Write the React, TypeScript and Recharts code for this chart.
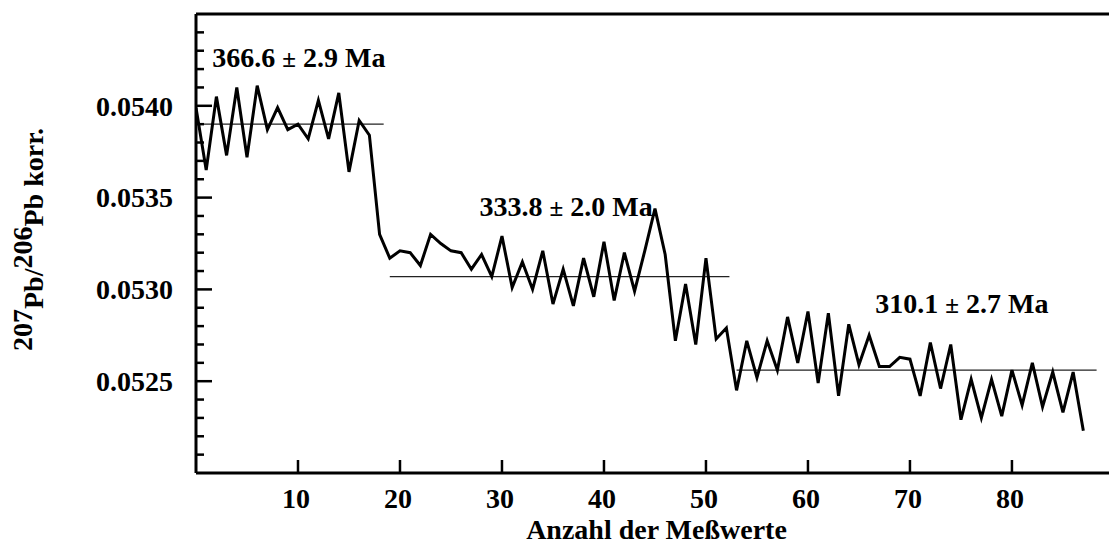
import React from "react";
import { LineChart, Line, XAxis, YAxis, ReferenceLine, ReferenceDot } from "recharts";

const ratios = [
  0.05399, 0.05365, 0.05405, 0.05373, 0.0541, 0.05372, 0.05411, 0.05387, 0.05399, 0.05387,
  0.0539, 0.05382, 0.05403, 0.05382, 0.05407, 0.05364, 0.05392, 0.05384, 0.0533, 0.05317,
  0.05321, 0.0532, 0.05313, 0.0533, 0.05325, 0.05321, 0.0532, 0.05311, 0.05319, 0.05307,
  0.05329, 0.05301, 0.05315, 0.053, 0.05321, 0.05292, 0.05311, 0.05291, 0.05317, 0.05296,
  0.05326, 0.05294, 0.0532, 0.05299, 0.05321, 0.05344, 0.05319, 0.05272, 0.05303, 0.0527,
  0.05317, 0.05273, 0.05279, 0.05245, 0.05272, 0.05252, 0.05272, 0.05256, 0.05285, 0.0526,
  0.05288, 0.05249, 0.05287, 0.05242, 0.05281, 0.05259, 0.05275, 0.05258, 0.05258, 0.05263,
  0.05262, 0.05242, 0.05271, 0.05246, 0.0527, 0.05229, 0.05251, 0.0523, 0.05251, 0.05231,
  0.05256, 0.05237, 0.0526, 0.05236, 0.05255, 0.05233, 0.05255, 0.05223,
];

const xTicks = [10, 20, 30, 40, 50, 60, 70, 80];
const yMajor = [0.0525, 0.053, 0.0535, 0.054];
const yTicks = [
  0.0521, 0.0522, 0.0523, 0.0524, 0.0525, 0.0526, 0.0527, 0.0528, 0.0529, 0.053,
  0.0531, 0.0532, 0.0533, 0.0534, 0.0535, 0.0536, 0.0537, 0.0538, 0.0539, 0.054,
  0.0541, 0.0542, 0.0543, 0.0544,
];

// mean ratio of each population
const meanFrom = [0, 19, 53];
const meanTo = [18.4, 52.3, 88.3];
const meanValue = [0.0539, 0.05307, 0.05256];

// age labels
const ageText = ["366.6", "333.8", "310.1"];
const ageErr = ["2.9", "2.0", "2.7"];
const ageX = [1.6, 27.8, 66.6];
const ageY = [0.05421, 0.0534, 0.05287];

const data = ratios.map((r, i) => ({ n: i, ratio: r }));

const font = "'Liberation Serif', 'Times New Roman', serif";

function YTick(props: any) {
  const { x, y, payload } = props;
  const major = yMajor.some((m) => Math.abs(m - payload.value) < 1e-7);
  return (
    <g>
      <line x1={x} y1={y} x2={x + (major ? 16 : 8)} y2={y} stroke="#000" strokeWidth={2.5} />
      {major && (
        <text x={x - 23} y={y} dy="0.35em" textAnchor="end" fontFamily={font} fontWeight="bold" fontSize={28} fill="#000">
          {payload.value.toFixed(4)}
        </text>
      )}
    </g>
  );
}

function XTick(props: any) {
  const { x, y, payload } = props;
  return (
    <g>
      <line x1={x} y1={y} x2={x} y2={y - 13} stroke="#000" strokeWidth={2.5} />
      <text x={x - 2} y={y + 35} textAnchor="middle" fontFamily={font} fontWeight="bold" fontSize={28} fill="#000">
        {payload.value}
      </text>
    </g>
  );
}

function XTitle(props: any) {
  const { viewBox } = props;
  return (
    <text x={viewBox.x + viewBox.width / 2} y={viewBox.y + 66} textAnchor="middle" fontFamily={font} fontWeight="bold" fontSize={28} fill="#000">
      Anzahl der Meßwerte
    </text>
  );
}

function YTitle(props: any) {
  const { viewBox } = props;
  const x = 35;
  const y = viewBox.y + viewBox.height / 2 - 4;
  return (
    <text x={x} y={y} transform={`rotate(-90, ${x}, ${y})`} textAnchor="middle" fontFamily={font} fontWeight="bold" fontSize={28} fill="#000">
      <tspan dy={-11}>207</tspan>
      <tspan dy={11}>Pb/</tspan>
      <tspan dy={-11}>206</tspan>
      <tspan dy={11}>Pb korr.</tspan>
    </text>
  );
}

function AgeLabel(props: any) {
  const { viewBox, age, err } = props;
  return (
    <text x={viewBox.x} y={viewBox.y} fontFamily={font} fontWeight="bold" fontSize={28} fill="#000">
      {age} <tspan fontSize={25}>±</tspan> {err} Ma
    </text>
  );
}

export default function App() {
  return (
    <div style={{ width: 1109, height: 542, overflow: "hidden", background: "#fff" }}>
      <LineChart width={1109} height={542} data={data} margin={{ top: 6, right: 0, bottom: 0, left: 0 }}>
        <XAxis
          type="number"
          dataKey="n"
          domain={[0, 90.3]}
          ticks={xTicks}
          interval={0}
          allowDataOverflow
          height={77}
          tickSize={0}
          tickMargin={0}
          tick={<XTick />}
          axisLine={{ stroke: "#000", strokeWidth: 3 }}
          label={<XTitle />}
        />
        <YAxis
          type="number"
          domain={[0.052, 0.0545]}
          ticks={yTicks}
          interval={0}
          allowDataOverflow
          width={188}
          tickSize={0}
          tickMargin={0}
          tick={<YTick />}
          axisLine={{ stroke: "#000", strokeWidth: 3 }}
          label={<YTitle />}
        />
        <ReferenceLine y={0.0545} stroke="#000" strokeWidth={3} />
        {meanValue.map((v, i) => (
          <ReferenceLine
            key={i}
            segment={[
              { x: meanFrom[i], y: v },
              { x: meanTo[i], y: v },
            ]}
            stroke="#222"
            strokeWidth={1.3}
          />
        ))}
        {ageText.map((t, i) => (
          <ReferenceDot key={i} x={ageX[i]} y={ageY[i]} r={0} fill="none" stroke="none" label={<AgeLabel age={t} err={ageErr[i]} />} />
        ))}
        <Line type="linear" dataKey="ratio" stroke="#000" strokeWidth={3} dot={false} isAnimationActive={false} />
      </LineChart>
    </div>
  );
}
